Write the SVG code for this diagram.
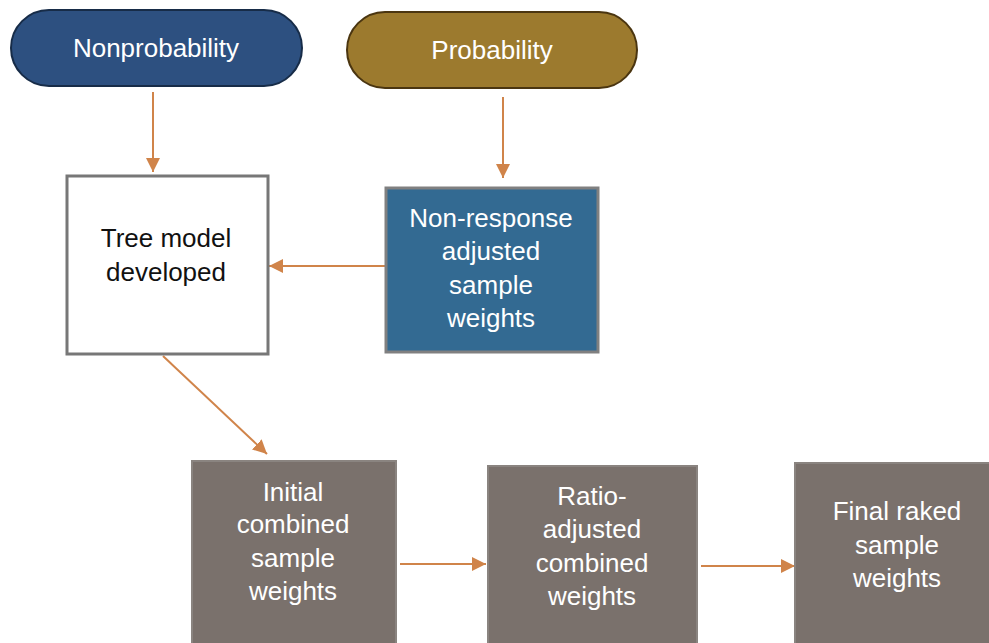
<svg xmlns="http://www.w3.org/2000/svg" width="989" height="643" viewBox="0 0 989 643">
<style>
text{font-family:"Liberation Sans",Arial,sans-serif;font-size:26px;text-anchor:middle}
.w{fill:#ffffff}
.k{fill:#111111}
.c{stroke:#d0844a;stroke-width:2;fill:none}
.g{fill:#7a716c;stroke:#8a8480;stroke-width:2}
</style>
<defs>
<marker id="a" viewBox="0 0 14 14" refX="14" refY="7" markerWidth="14" markerHeight="14" orient="auto" markerUnits="userSpaceOnUse">
<path d="M0,0 L14,7 L0,14 Z" fill="#d0844a"/>
</marker>
</defs>
<g id="connectors">
<line class="c" x1="153" y1="92" x2="153" y2="172" marker-end="url(#a)"/>
<line class="c" x1="503" y1="97" x2="503" y2="178" marker-end="url(#a)"/>
<line class="c" x1="386" y1="266" x2="269" y2="266" marker-end="url(#a)"/>
<line class="c" x1="163" y1="356" x2="267" y2="454" marker-end="url(#a)"/>
<line class="c" x1="400" y1="564" x2="486" y2="564" marker-end="url(#a)"/>
<line class="c" x1="701" y1="566" x2="795" y2="566" marker-end="url(#a)"/>
</g>
<g id="nonprobability">
<rect x="11" y="10" width="291" height="76" rx="38" fill="#2d5080" stroke="#172c48" stroke-width="2"/>
<text class="w" x="156" y="57">Nonprobability</text>
</g>
<g id="probability">
<rect x="347" y="12" width="290" height="76" rx="38" fill="#9c7a2e" stroke="#4a3510" stroke-width="2"/>
<text class="w" x="492" y="59">Probability</text>
</g>
<g id="tree-model">
<rect x="67" y="176" width="201" height="178" fill="#ffffff" stroke="#777777" stroke-width="3"/>
<text class="k" x="166" y="247">Tree model</text>
<text class="k" x="166" y="281">developed</text>
</g>
<g id="nonresponse">
<rect x="386" y="188" width="212" height="164" fill="#336a92" stroke="#808080" stroke-width="3"/>
<text class="w" x="491" y="227">Non-response</text>
<text class="w" x="491" y="260">adjusted</text>
<text class="w" x="491" y="294">sample</text>
<text class="w" x="491" y="327">weights</text>
</g>
<g id="initial">
<rect class="g" x="192" y="461" width="204" height="190"/>
<text class="w" x="293" y="501">Initial</text>
<text class="w" x="293" y="533">combined</text>
<text class="w" x="293" y="567">sample</text>
<text class="w" x="293" y="600">weights</text>
</g>
<g id="ratio">
<rect class="g" x="488" y="466" width="209" height="185"/>
<text class="w" x="592" y="505">Ratio-</text>
<text class="w" x="592" y="538">adjusted</text>
<text class="w" x="592" y="572">combined</text>
<text class="w" x="592" y="605">weights</text>
</g>
<g id="final">
<rect class="g" x="795" y="463" width="210" height="188"/>
<text class="w" x="897" y="520">Final raked</text>
<text class="w" x="897" y="554">sample</text>
<text class="w" x="897" y="587">weights</text>
</g>
</svg>
